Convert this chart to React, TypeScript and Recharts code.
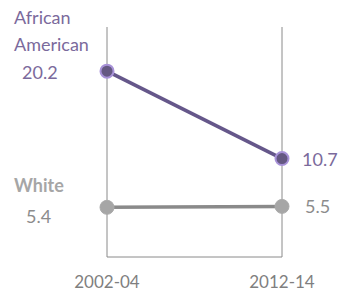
import { LineChart, Line, XAxis, YAxis, LabelList, CartesianGrid } from "recharts";

const periods = ["2002-04", "2012-14"];
const africanAmerican = [20.2, 10.7];
const white = [5.4, 5.5];

const data = periods.map((p, i) => ({
  period: p,
  aa: africanAmerican[i],
  white: white[i],
}));

const FONT = "Lato, 'Open Sans', sans-serif";
const PURPLE_TEXT = "#7b6a9c";
const GRAY_TEXT = "#8c8c8c";

const aaLabel = (props: any) => {
  const { x, y, index, value } = props;
  if (index === 0) {
    return (
      <g fontFamily={FONT} fontSize={18} fill={PURPLE_TEXT} dominantBaseline="central">
        <text x={x - 93} y={y - 54}>African</text>
        <text x={x - 93} y={y - 27}>American</text>
        <text x={x - 85} y={y + 1}>{value.toFixed(1)}</text>
      </g>
    );
  }
  return (
    <text x={x + 20} y={y} fontFamily={FONT} fontSize={18} fill={PURPLE_TEXT} dominantBaseline="central">
      {value.toFixed(1)}
    </text>
  );
};

const whiteLabel = (props: any) => {
  const { x, y, index, value } = props;
  if (index === 0) {
    return (
      <g fontFamily={FONT} fontSize={18} dominantBaseline="central">
        <text x={x - 93} y={y - 22} fill="#a6a6a6" fontWeight="bold">White</text>
        <text x={x - 81} y={y + 9} fill={GRAY_TEXT}>{value.toFixed(1)}</text>
      </g>
    );
  }
  return (
    <text x={x + 23} y={y} fontFamily={FONT} fontSize={18} fill={GRAY_TEXT} dominantBaseline="central">
      {value.toFixed(1)}
    </text>
  );
};

export default function App() {
  return (
    <div style={{ position: "absolute", left: 0, top: 0, background: "#fff" }}>
      <LineChart width={338} height={293} data={data} margin={{ top: 27, right: 56, left: 107, bottom: 0 }}>
        <CartesianGrid horizontal={false} stroke="#8a8a8a" strokeWidth={1} />
        <XAxis
          dataKey="period"
          height={36}
          padding={{ left: 0, right: 0 }}
          tickLine={false}
          tickSize={0}
          tickMargin={19}
          axisLine={{ stroke: "#8a8a8a" }}
          tick={{ fontSize: 17, fill: "#7f7f7f", fontFamily: FONT }}
        />
        <YAxis hide domain={[0, 25]} />
        <Line
          dataKey="white"
          stroke="#8a8a8a"
          strokeWidth={3.5}
          dot={{ r: 7, fill: "#a6a6a6", stroke: "#ababab", strokeWidth: 1 }}
          isAnimationActive={false}
        >
          <LabelList dataKey="white" content={whiteLabel} />
        </Line>
        <Line
          dataKey="aa"
          stroke="#65578a"
          strokeWidth={3.5}
          dot={{ r: 6.5, fill: "#655882", stroke: "#a892d8", strokeWidth: 2 }}
          isAnimationActive={false}
        >
          <LabelList dataKey="aa" content={aaLabel} />
        </Line>
      </LineChart>
    </div>
  );
}
